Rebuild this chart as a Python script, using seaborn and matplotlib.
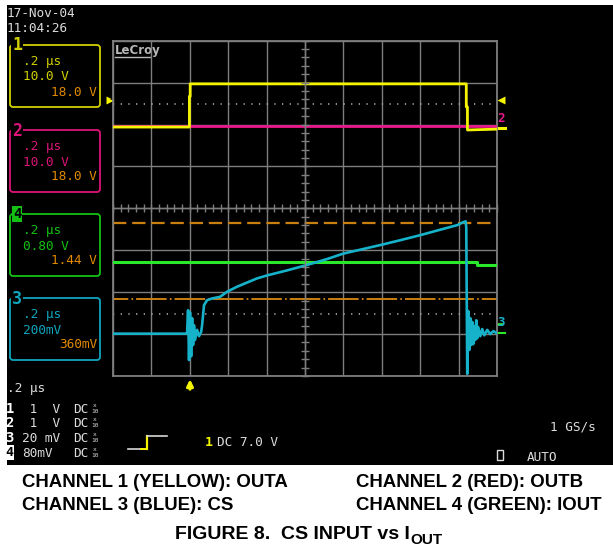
import numpy as np
import matplotlib
matplotlib.use("Agg")
import matplotlib.pyplot as plt
import seaborn as sns
from matplotlib.patches import Rectangle, FancyBboxPatch
from matplotlib.ticker import MultipleLocator

# ---------------- data (time in microseconds, amplitude in screen divisions) ----------------
ch1_t = [0.0, 0.398, 0.398, 0.402, 0.402, 1.840, 1.840, 1.846, 1.846, 2.0]
ch1_div = [1.94, 1.94, 2.67, 2.67, 2.97, 2.97, 2.42, 2.42, 1.87, 1.89]

ch2_t = [0.0, 2.0]
ch2_div = [1.96, 1.96]

ch4_t = [0.0, 1.897, 1.897, 2.0]
ch4_div = [-1.29, -1.29, -1.35, -1.35]

ch3_t = [0.000, 0.375, 0.386, 0.391, 0.396, 0.401, 0.407, 0.412, 0.417, 0.422, 0.427,
         0.438, 0.448, 0.459, 0.464, 0.474, 0.490, 0.516, 0.558, 0.594, 0.646, 0.751,
         0.803, 0.907, 1.011, 1.115, 1.199, 1.303, 1.407, 1.496, 1.600, 1.704, 1.793,
         1.824, 1.837, 1.840, 1.845, 1.850, 1.855, 1.861, 1.866, 1.871, 1.876, 1.881,
         1.887, 1.892, 1.897, 1.902, 1.913, 1.923, 1.934, 1.949, 1.965, 1.981, 2.000]
ch3_div = [-2.99, -2.99, -2.98, -2.43, -3.62, -2.48, -3.53, -2.62, -3.26, -2.79, -3.14,
           -2.90, -3.05, -2.95, -2.79, -2.31, -2.19, -2.15, -2.11, -1.99, -1.87, -1.67,
           -1.60, -1.48, -1.35, -1.21, -1.08, -0.97, -0.86, -0.76, -0.64, -0.51, -0.40,
           -0.33, -0.31, -0.47, -3.95, -2.45, -3.38, -2.62, -3.26, -2.71, -3.24, -2.81,
           -3.14, -2.67, -3.10, -2.83, -3.05, -2.88, -3.03, -2.90, -3.00, -2.93, -2.98]

orange_dash_level = -0.35
orange_dashdot_level = -2.16
dotted_levels = [2.48, -2.52]

box_labels = ["1", "2", "4", "3"]
box_timebase = [".2 µs", ".2 µs", ".2 µs", ".2 µs"]
box_vdiv = ["10.0 V", "10.0 V", "0.80 V", "200mV"]
box_offset = ["18.0 V", "18.0 V", "1.44 V", "360mV"]

row_channels = ["1", "2", "3", "4"]
row_volts = [" 1  V", " 1  V", "20 mV", "80mV"]
row_coupling = ["DC", "DC", "DC", "DC"]

caption_left = ["CHANNEL 1 (YELLOW): OUTA", "CHANNEL 3 (BLUE): CS"]
caption_right = ["CHANNEL 2 (RED): OUTB", "CHANNEL 4 (GREEN): IOUT"]
title_main = "FIGURE 8.  CS INPUT vs I"
title_sub = "OUT"

# ---------------- styling ----------------
plt.rcParams["lines.scale_dashes"] = False
MONO = "DejaVu Sans Mono"
CAP = "Liberation Sans"
GRID = "#7e7e7e"
YEL_T, YEL_B = "#f4f400", "#d0d000"
MAG_T, MAG_B = "#ea168c", "#dc1478"
GRN_T, GRN_B = "#2ae82a", "#14c014"
CYN_T, CYN_B = "#16b2ca", "#10a6be"
ORG_T, ORG_L = "#e28a00", "#c98010"
TXT = "#dcdcdc"

W, H = 613, 551
fig = plt.figure(figsize=(W / 100, H / 100), dpi=100, facecolor="white")

pa = fig.add_axes([0, 0, 1, 1])
pa.set_xlim(0, W)
pa.set_ylim(H, 0)
pa.axis("off")
pa.add_patch(Rectangle((7, 5), 606, 460, facecolor="black", edgecolor="none"))

# ---------------- scope graticule axes ----------------
gx0, gx1, gy0, gy1 = 113, 497, 40.7, 376
rect = [gx0 / W, 1 - gy1 / H, (gx1 - gx0) / W, (gy1 - gy0) / H]
ax = fig.add_axes(rect)
ax.patch.set_alpha(0)
ax.set_xlim(0, 2.0)
ax.set_ylim(-4, 4)
ax.set_xticks(np.arange(0, 2.0001, 0.2))
ax.set_yticks(np.arange(-4, 4.0001, 1))
ax.tick_params(length=0, labelbottom=False, labelleft=False)
ax.grid(True, color=GRID, lw=1.0, zorder=0)
ax.set_axisbelow(True)
for s in ax.spines.values():
    s.set_color(GRID)
    s.set_linewidth(1.3)

# center-line tick marks
axc = fig.add_axes(rect, sharex=ax, sharey=ax)
axc.patch.set_alpha(0)
axc.spines["top"].set_visible(False)
axc.spines["right"].set_visible(False)
axc.spines["left"].set_position(("data", 1.0))
axc.spines["bottom"].set_position(("data", 0.0))
for s in ("left", "bottom"):
    axc.spines[s].set_color(GRID)
    axc.spines[s].set_linewidth(1.0)
axc.xaxis.set_major_locator(MultipleLocator(0.2))
axc.xaxis.set_minor_locator(MultipleLocator(0.04))
axc.yaxis.set_major_locator(MultipleLocator(1.0))
axc.yaxis.set_minor_locator(MultipleLocator(0.2))
axc.tick_params(which="both", direction="inout", length=5.5, width=1.0, color=GRID,
                labelbottom=False, labelleft=False, bottom=True, left=True)

# reference lines
for lv in dotted_levels:
    ax.axhline(lv, color="#a0a0a0", lw=1.3, linestyle=(0, (0.9, 4.63)), zorder=1)
ax.axhline(orange_dash_level, color=ORG_L, lw=1.6, linestyle=(0, (9.6, 4.2)), zorder=2)
ax.axhline(orange_dashdot_level, color=ORG_L, lw=1.4,
           linestyle=(11.0, (22.0, 2.3, 1.2, 2.15)), zorder=2)

# traces
sns.lineplot(x=ch2_t, y=ch2_div, ax=ax, color=MAG_T, lw=2.0, estimator=None, sort=False, zorder=3)
sns.lineplot(x=ch1_t, y=ch1_div, ax=ax, color=YEL_T, lw=2.0, estimator=None, sort=False, zorder=4)
sns.lineplot(x=ch4_t, y=ch4_div, ax=ax, color=GRN_T, lw=2.2, estimator=None, sort=False, zorder=3)
sns.lineplot(x=ch3_t, y=ch3_div, ax=ax, color=CYN_T, lw=1.9, estimator=None, sort=False, zorder=5)
ax.set_xlabel("")
ax.set_ylabel("")

# ---------------- texts and decorations in pixel space ----------------
pa.text(7, 17, "17-Nov-04", family=MONO, size=9.2, color=TXT, va="baseline")
pa.text(7, 32, "11:04:26", family=MONO, size=9.2, color=TXT, va="baseline")

box_tops = [45, 130, 214, 298]
box_edge = [YEL_B, MAG_B, GRN_B, CYN_B]
for top, lab, tb, vd, off, ec in zip(box_tops, box_labels, box_timebase, box_vdiv, box_offset, box_edge):
    pa.add_patch(FancyBboxPatch((10, top), 90, 62, boxstyle="round,pad=0,rounding_size=3",
                                facecolor="none", edgecolor=ec, lw=1.3))
    pa.text(23, top + 20, tb, family=MONO, size=9.2, color=ec, va="baseline")
    pa.text(23, top + 35.5, vd, family=MONO, size=9.2, color=ec, va="baseline")
    pa.text(97, top + 50.5, off, family=MONO, size=9.2, color=ORG_T, va="baseline", ha="right")
    if lab == "4":
        pa.text(17, top, lab, family=MONO, size=10, weight="bold", color="black",
                ha="center", va="center",
                bbox=dict(boxstyle="square,pad=0.08", facecolor=ec, edgecolor="none"))
    else:
        pa.text(17, top + 0.5, lab, family=MONO, size=12, weight="bold", color=ec,
                ha="center", va="center",
                bbox=dict(boxstyle="square,pad=0.05", facecolor="black", edgecolor="none"))

# LeCroy logo
pa.text(115, 54, "LeCroy", family="DejaVu Sans", size=8.5, weight="bold", color="#b8b8b8",
        va="baseline")
pa.plot([115, 150], [57, 57], color="#b8b8b8", lw=1.0)

# level markers
pa.plot([110], [99.5], marker=">", ms=6, color=YEL_T, mec="none")
pa.plot([501], [99.5], marker="<", ms=6, color=YEL_T, mec="none")
pa.text(501, 119, "2", family=MONO, size=9, weight="bold", color=MAG_T, ha="center", va="center")
pa.plot([497.5, 504.5], [128, 128], color=YEL_T, lw=2.2)
pa.text(501, 323, "3", family=MONO, size=9, weight="bold", color=CYN_T, ha="center", va="center")
pa.plot([497.5, 500.5], [324, 324], color=GRN_T, lw=2.0)
pa.plot([497.5, 504.5], [333, 333], color=GRN_T, lw=1.5)

# trigger position arrow
pa.annotate("", xy=(190, 376.5), xytext=(190, 392),
            arrowprops=dict(arrowstyle="-|>", color=YEL_T, lw=2.2, mutation_scale=9))

# bottom status area
pa.text(7, 392, ".2 µs", family=MONO, size=9.2, color=TXT, va="baseline")
row_base = [413, 427, 442, 457]
for yb, ch, vv, cp in zip(row_base, row_channels, row_volts, row_coupling):
    if ch == "4":
        pa.text(9.5, yb - 4.5, ch, family=MONO, size=9.5, weight="bold", color="black",
                ha="center", va="center",
                bbox=dict(boxstyle="square,pad=0.05", facecolor="white", edgecolor="none"))
    else:
        pa.text(9.5, yb, ch, family=MONO, size=10, weight="bold", color="white",
                ha="center", va="baseline")
    pa.text(22, yb, vv, family=MONO, size=9.2, color=TXT, va="baseline")
    pa.text(73, yb, cp, family=MONO, size=9.2, color=TXT, va="baseline")
    pa.text(95, yb - 6, "x", family=MONO, size=4.5, color=TXT, ha="center", va="baseline")
    pa.text(95, yb, "10", family=MONO, size=4.5, color=TXT, ha="center", va="baseline")

# trigger symbol
pa.plot([128, 147], [449, 449], color="#d8d8d8", lw=1.2)
pa.plot([141, 147], [449, 449], color=YEL_T, lw=1.4)
pa.plot([147, 147], [449, 436], color=YEL_T, lw=1.6)
pa.plot([147, 167], [436, 436], color="#d8d8d8", lw=1.2)
pa.text(205, 446, "1", family=MONO, size=9.5, weight="bold", color=YEL_T, va="baseline")
pa.text(217, 446, "DC 7.0 V", family=MONO, size=9.2, color=TXT, va="baseline")

pa.text(596, 431, "1 GS/s", family=MONO, size=9.2, color=TXT, va="baseline", ha="right")
pa.add_patch(Rectangle((497, 450), 6, 10, facecolor="none", edgecolor=TXT, lw=1.0))
pa.text(527, 461, "AUTO", family=MONO, size=9.2, color=TXT, va="baseline")

# ---------------- captions ----------------
for i, (l, r) in enumerate(zip(caption_left, caption_right)):
    yb = 487 + i * 23
    pa.text(22, yb, l, family=CAP, weight="bold", size=13.4, color="black", va="baseline")
    pa.text(356, yb, r, family=CAP, weight="bold", size=13.4, color="black", va="baseline")

t_main = pa.text(175, 539, title_main, family=CAP, weight="bold", size=14, color="black",
                 va="baseline")
renderer = fig.canvas.get_renderer()
bb = t_main.get_window_extent(renderer=renderer)
pa.text(bb.x1 + 0.5, 544, title_sub, family=CAP, weight="bold", size=11, color="black",
        va="baseline")

fig.savefig("out.png", dpi=100, facecolor="white")
